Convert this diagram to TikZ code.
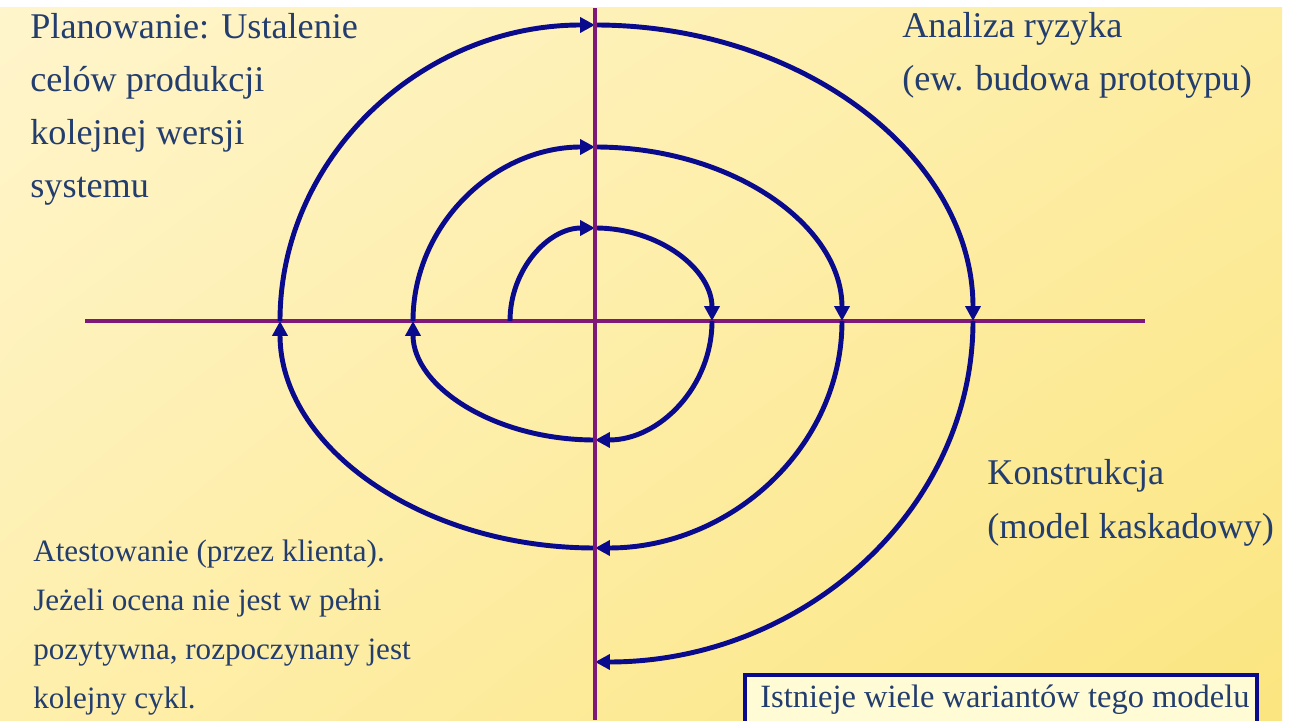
\documentclass[tikz,border=0pt]{standalone}
\usepackage{fontspec}
\setmainfont{Liberation Serif}
\usetikzlibrary{arrows.meta,shadings}

\definecolor{spiralblue}{RGB}{10,10,140}
\definecolor{axispurple}{RGB}{128,24,120}
\definecolor{textblue}{RGB}{35,62,110}
\definecolor{bgUL}{RGB}{255,245,204}
\definecolor{bgUR}{RGB}{253,237,162}
\definecolor{bgLL}{RGB}{254,239,172}
\definecolor{bgLR}{RGB}{251,229,128}
\definecolor{notefill}{RGB}{255,251,212}

\tikzset{
  axis/.style={axispurple, line width=2.4pt},
  turn/.style={spiralblue, line width=2.8pt, -{Triangle[length=8.5pt,width=8.5pt]}},
  label text/.style={text=textblue, inner sep=0pt, align=left,
    font=\fontsize{20.6}{30.2}\selectfont},
  small text/.style={label text, font=\fontsize{17.7}{27.8}\selectfont},
}

\begin{document}
\begin{tikzpicture}[x=0.02cm, y=0.02cm]
    \path[use as bounding box, clip] (0,0) rectangle (1290,720);
    \fill[white] (0,0) rectangle (1290,720);
    \shade[upper left=bgUL, upper right=bgUR, lower left=bgLL, lower right=bgLR]
        (0,0) rectangle (1282,712);

    \coordinate (o) at (595,399);
    \draw[axis] (85,399) -- (1145,399);

    % spiral, one quarter turn per arc
    \foreach \a/\rx/\ry in {180/85/93, 90/117/93, 0/117/119, -90/182/119,
                            180/182/174, 90/247/174, 0/247/227, -90/315/227,
                            180/315/296, 90/378/296, 0/378/341}
        \draw[turn] ({595+\rx*cos(\a)},{399+\ry*sin(\a)})
            arc[start angle=\a, end angle=\a-90, x radius=\rx, y radius=\ry];

    \draw[axis] (595,0) -- (595,712);

    % anchors sit on the last line of each block
    \node[label text, anchor=base west] (plan) at (30,522)
        {Planowanie: Ustalenie\\celów produkcji\\kolejnej wersji\\systemu};
    \node[label text, anchor=base west] (risk) at (902,629)
        {Analiza ryzyka\\(ew. budowa prototypu)};
    \node[label text, anchor=base west] (build) at (987,182)
        {Konstrukcja\\(model kaskadowy)};
    \node[small text, anchor=base west] (check) at (33,12)
        {Atestowanie (przez klienta).\\Jeżeli ocena nie jest w pełni\\pozytywna, rozpoczynany jest\\kolejny cykl.};

    \draw[spiralblue, line width=2.2pt, fill=notefill] (745,45) rectangle (1257,-30);
    \node[label text, font=\fontsize{18.5}{24}\selectfont, anchor=base west] (note) at (760,13)
        {Istnieje wiele wariantów tego modelu};
\end{tikzpicture}
\end{document}
